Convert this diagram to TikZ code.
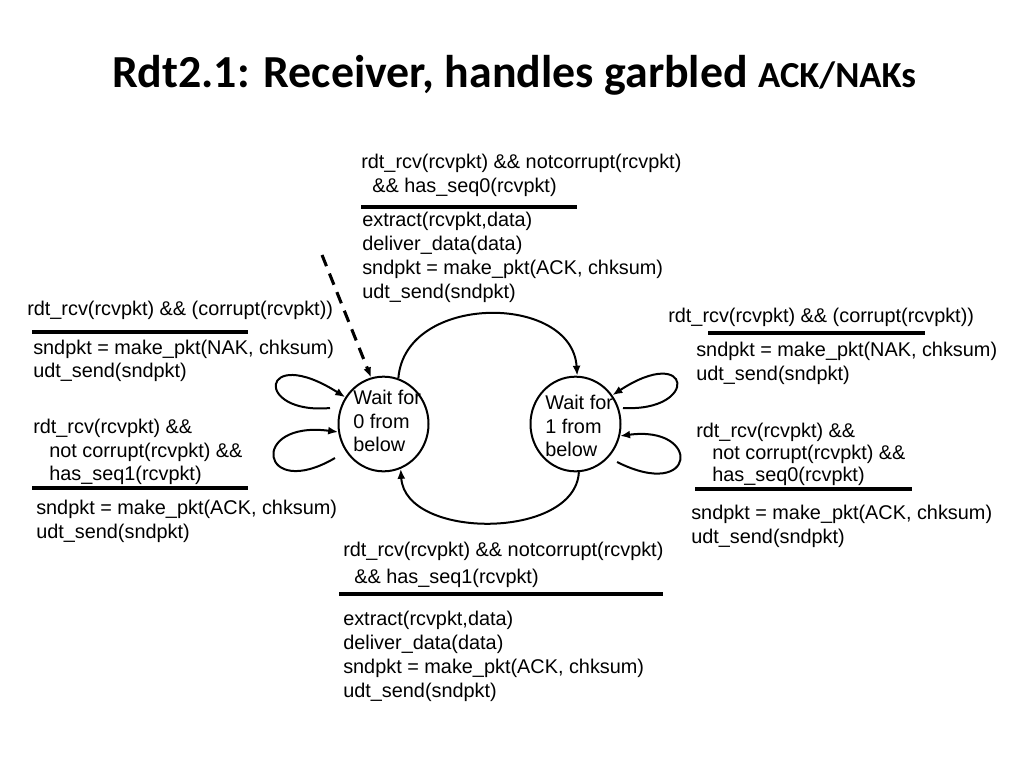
\documentclass[tikz,border=0pt]{standalone}
\usepackage{fontspec}
\setmainfont{Liberation Sans}
\newfontfamily\titlefont{Carlito}
\usetikzlibrary{arrows.meta,shapes.geometric}
\begin{document}
\begin{tikzpicture}[x=0.75pt,y=-0.75pt,
  lbl/.style={anchor=base west, inner sep=0pt, font=\fontsize{14.9}{18}\selectfont},
  bar/.style={line width=2.3pt},
  edge/.style={line width=1.5pt, -{Latex[length=7.5pt,width=6pt]}},
  state/.style={draw, ellipse, line width=1.5pt, minimum width=67.5pt, minimum height=71pt, inner sep=0pt}]
\useasboundingbox[fill=white] (0,0) rectangle (1024,768);
% title
\node[anchor=base, inner sep=0pt] (title) at (514,87)
  {\titlefont\bfseries\fontsize{34.4}{40}\selectfont Rdt2.1: Receiver, handles garbled {\fontsize{27.5}{32}\selectfont ACK/NAKs}};
% states
\node[state] (s0) at (383.5,424) {};
\node[state] (s1) at (575.5,424) {};
\node[lbl] (s0a) at (353,404) {Wait for};
\node[lbl] (s0b) at (353,428) {0 from};
\node[lbl] (s0c) at (353,451) {below};
\node[lbl] (s1a) at (545,409) {Wait for};
\node[lbl] (s1b) at (545,433) {1 from};
\node[lbl] (s1c) at (545,456) {below};
% initial dashed arrow
\coordinate (init) at (322,255);
\draw[edge, line width=2.3pt, dash pattern=on 9pt off 6pt] (init) -- (s0.105);
% transitions between states
\draw[edge] (s0.72) .. controls (405,293) and (572,293) .. (s1.88);
\draw[edge] (s1.-86) .. controls (575,540) and (405,540) .. (s0.-69);
% self loops left
\coordinate (l1s) at (330,408);
\coordinate (l2s) at (335,458);
\draw[edge] (l1s) .. controls (253,415) and (260,343) .. (s0.145);
\draw[edge] (l2s) .. controls (260,502) and (248,420) .. (s0.190);
% self loops right
\coordinate (r1s) at (623,408);
\coordinate (r2s) at (617,462);
\draw[edge] (r1s) .. controls (700,412) and (692,343) .. (s1.38);
\draw[edge] (r2s) .. controls (697,502) and (702,425) .. (s1.-15);
% top block
\node[lbl] (t1) at (361,168) {rdt\_rcv(rcvpkt) \&\& notcorrupt(rcvpkt)};
\node[lbl] (t2) at (372,192) {\&\& has\_seq0(rcvpkt)};
\draw[bar] (361,207) -- (577,207);
\node[lbl] (t3) at (362,226) {extract(rcvpkt,data)};
\node[lbl] (t4) at (362,250) {deliver\_data(data)};
\node[lbl] (t5) at (362,274) {sndpkt = make\_pkt(ACK, chksum)};
\node[lbl] (t6) at (362,298) {udt\_send(sndpkt)};
% bottom block
\node[lbl] (b1) at (343,556) {rdt\_rcv(rcvpkt) \&\& notcorrupt(rcvpkt)};
\node[lbl] (b2) at (354,583) {\&\& has\_seq1(rcvpkt)};
\draw[bar] (339,594) -- (663,594);
\node[lbl] (b3) at (343,625) {extract(rcvpkt,data)};
\node[lbl] (b4) at (343,649) {deliver\_data(data)};
\node[lbl] (b5) at (343,673) {sndpkt = make\_pkt(ACK, chksum)};
\node[lbl] (b6) at (343,697) {udt\_send(sndpkt)};
% left blocks
\node[lbl] (la1) at (27,315) {rdt\_rcv(rcvpkt) \&\& (corrupt(rcvpkt))};
\draw[bar] (32,332) -- (248,332);
\node[lbl] (la2) at (33,354) {sndpkt = make\_pkt(NAK, chksum)};
\node[lbl] (la3) at (33,377) {udt\_send(sndpkt)};
\node[lbl] (lb1) at (33,433) {rdt\_rcv(rcvpkt) \&\&};
\node[lbl] (lb2) at (49,457) {not corrupt(rcvpkt) \&\&};
\node[lbl] (lb3) at (49,480) {has\_seq1(rcvpkt)};
\draw[bar] (32,488) -- (248,488);
\node[lbl] (lb4) at (36,514) {sndpkt = make\_pkt(ACK, chksum)};
\node[lbl] (lb5) at (36,538) {udt\_send(sndpkt)};
% right blocks
\node[lbl] (ra1) at (668,322) {rdt\_rcv(rcvpkt) \&\& (corrupt(rcvpkt))};
\draw[bar] (708,333) -- (925,333);
\node[lbl] (ra2) at (696,356) {sndpkt = make\_pkt(NAK, chksum)};
\node[lbl] (ra3) at (696,380) {udt\_send(sndpkt)};
\node[lbl] (rb1) at (696,437) {rdt\_rcv(rcvpkt) \&\&};
\node[lbl] (rb2) at (712,459) {not corrupt(rcvpkt) \&\&};
\node[lbl] (rb3) at (712,481) {has\_seq0(rcvpkt)};
\draw[bar] (695,489) -- (912,489);
\node[lbl] (rb4) at (691,519) {sndpkt = make\_pkt(ACK, chksum)};
\node[lbl] (rb5) at (691,543) {udt\_send(sndpkt)};
\end{tikzpicture}
\end{document}
